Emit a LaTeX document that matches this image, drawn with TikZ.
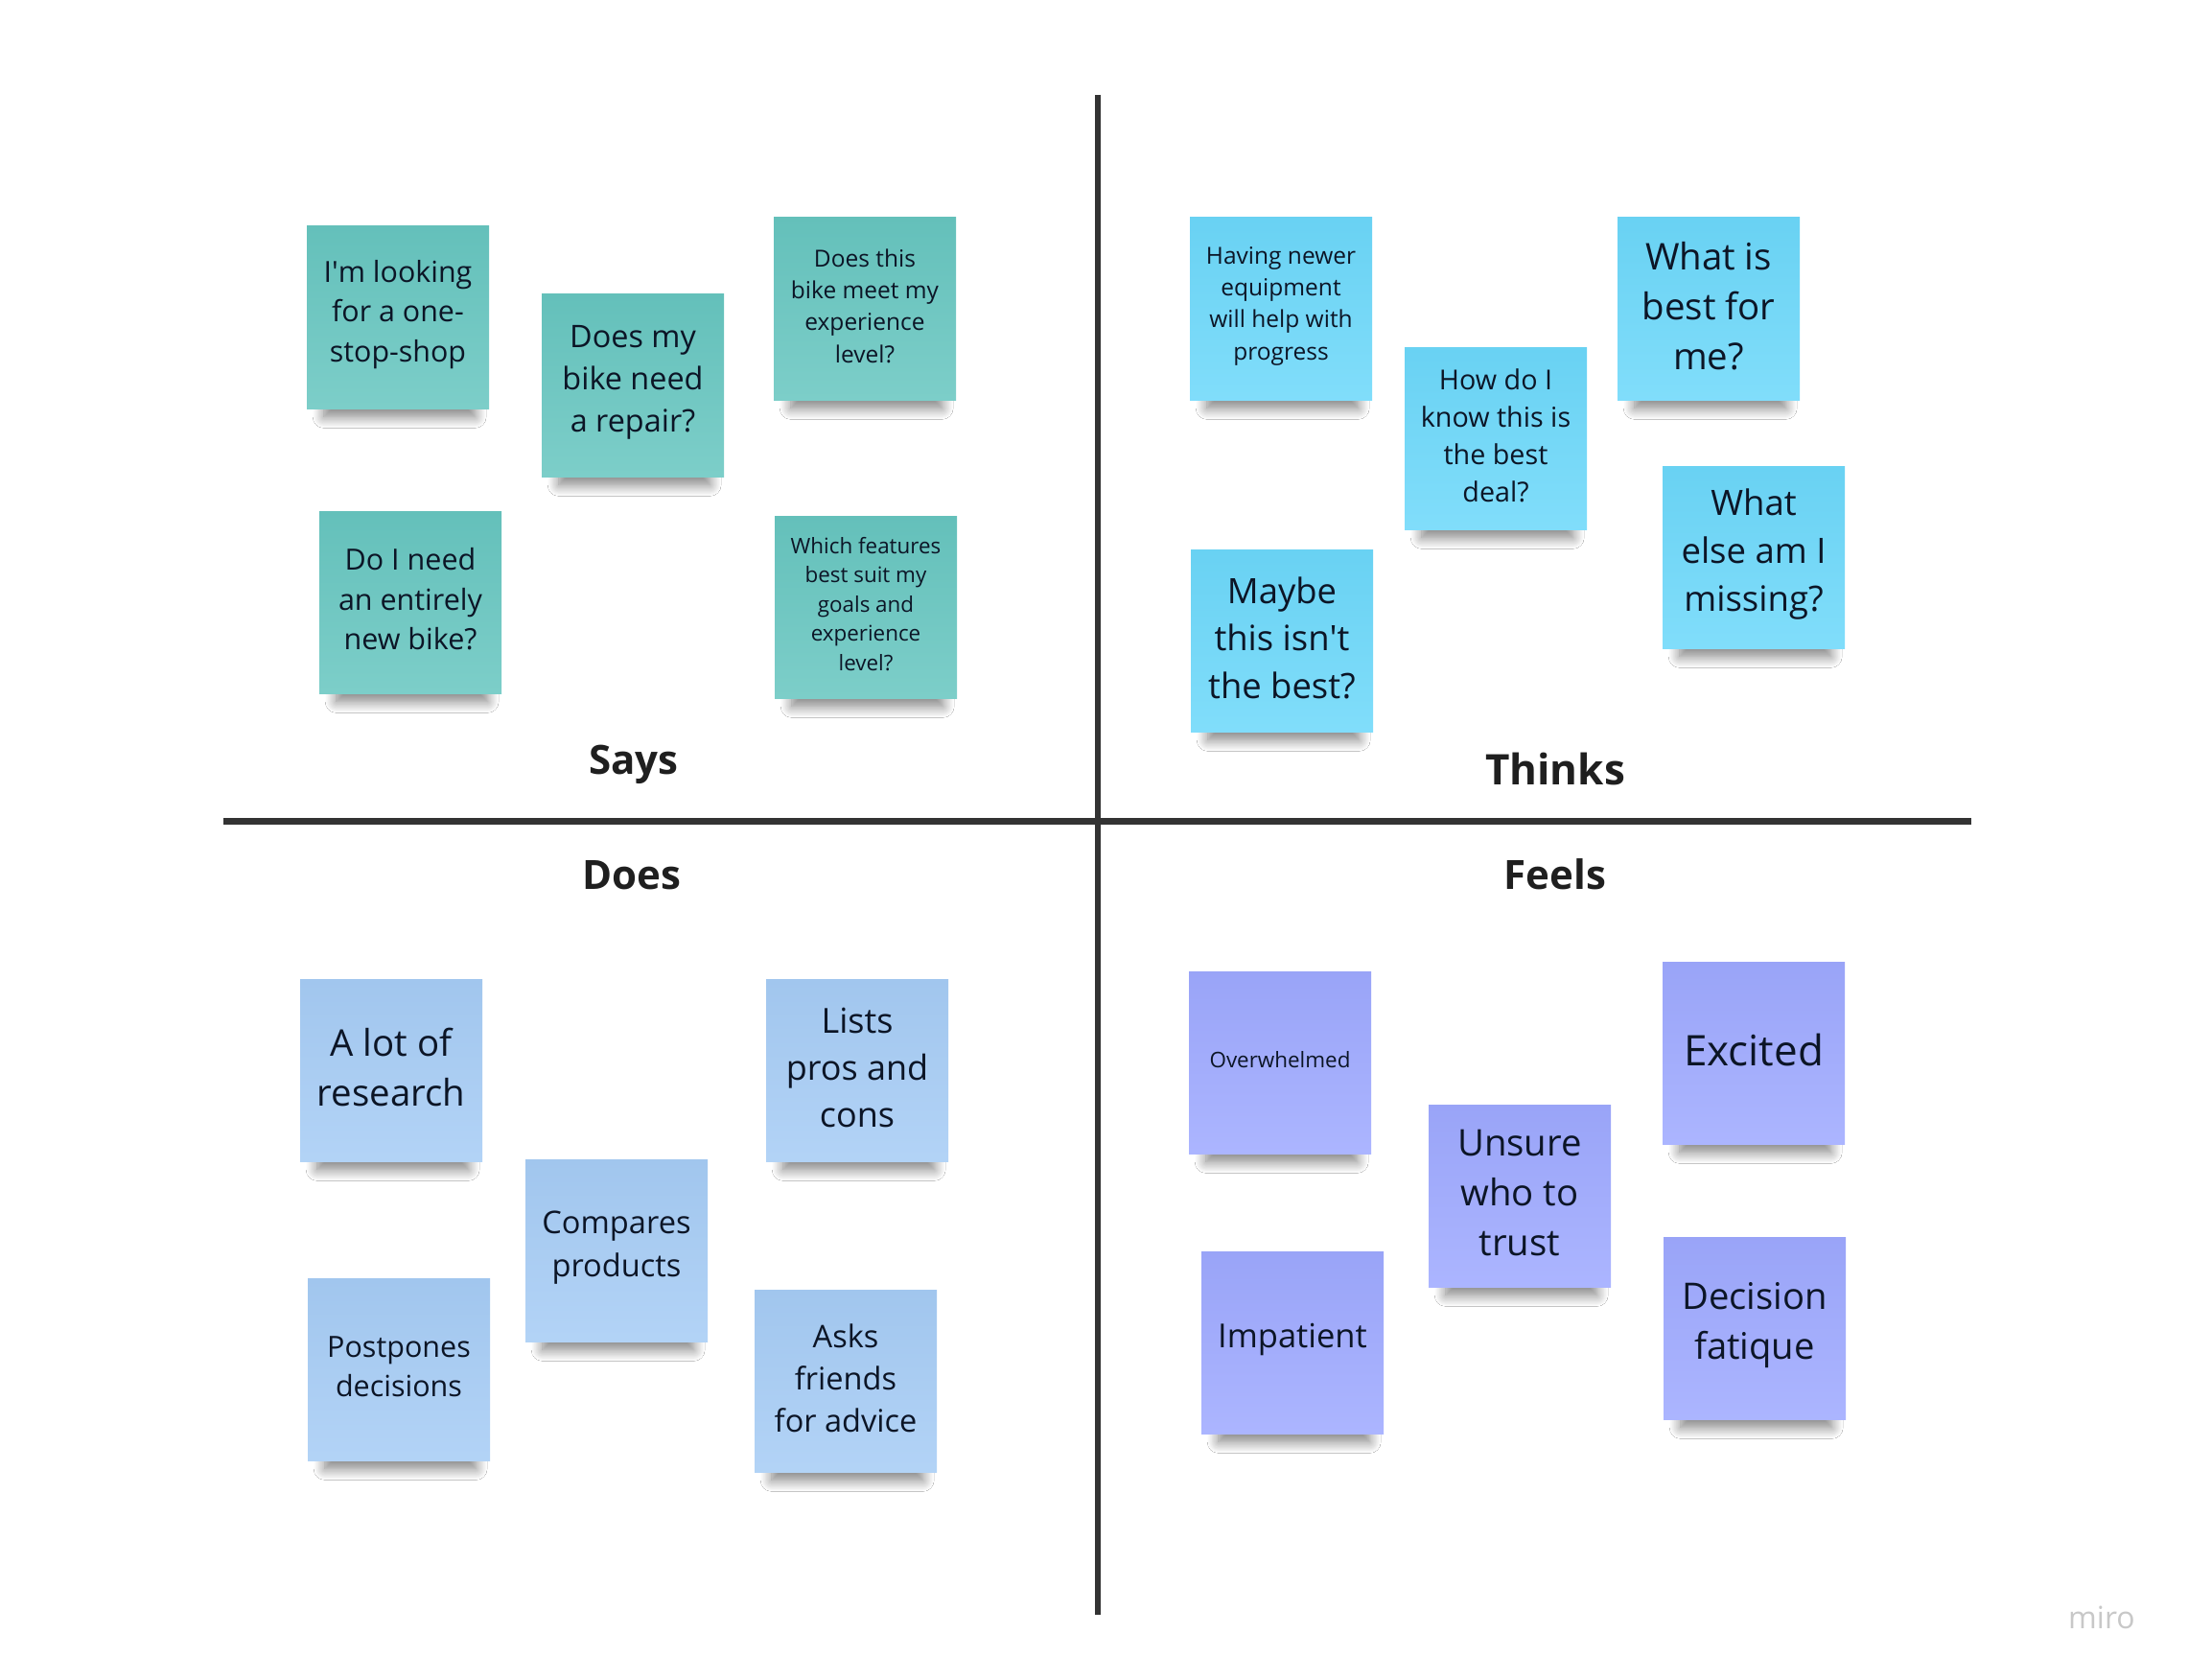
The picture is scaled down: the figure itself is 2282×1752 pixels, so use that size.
\documentclass[tikz,border=0pt]{standalone}
\usepackage{fontspec}
\setmainfont{Open Sans}
\usetikzlibrary{shadows.blur}
\definecolor{Teal}{HTML}{67C6C0}
\definecolor{Sky}{HTML}{6CD8FA}
\definecolor{Powder}{HTML}{A6CCF5}
\definecolor{Lilac}{HTML}{9EA9FF}
\definecolor{Ink}{HTML}{0C1526}
\definecolor{Rule}{HTML}{333333}
\definecolor{Watermark}{HTML}{C8C8C8}
\newcommand{\notesize}[1]{\pgfmathsetmacro\noteskip{1.36*#1}\fontsize{#1}{\noteskip}\selectfont}

\begin{document}
\begin{tikzpicture}[x=1pt, y=-1pt,
    sticky/.style={top color=#1!97!black, bottom color=#1!86!white, draw=none,
      minimum width=190pt, minimum height=190pt, inner sep=0pt,
      blur shadow={shadow xshift=2pt, shadow yshift=-30pt, shadow scale=0.83,
        shadow opacity=50, shadow blur radius=14pt, shadow blur steps=14}},
    writing/.style={text=Ink, align=center, inner sep=0pt, font=\notesize{#1}},
    heading/.style={text=black!88, anchor=base, font=\bfseries\fontsize{#1}{50}\selectfont}]
    \useasboundingbox[fill=white] (0,0) rectangle (2282,1752);

    % axes
    \coordinate (top) at (1145,99);
    \coordinate (bottom) at (1145,1684);
    \coordinate (left) at (233,856.5);
    \coordinate (right) at (2056,856.5);
    \draw[line width=6.5pt, Rule] (top) -- (bottom);
    \draw[line width=6.5pt, Rule] (left) -- (right);

    % says
    \node[sticky=Teal] (s1) at (415,331) {};
    \node[writing=30.4] (s1-txt) at ([yshift=3pt]s1.center) {I\textquotesingle m looking\\for a one-\\stop-shop};
    \node[sticky=Teal] (s2) at (660,402) {};
    \node[writing=32.4] (s2-txt) at ([yshift=3pt]s2.center) {Does my\\bike need\\a repair?};
    \node[sticky=Teal] (s3) at (902,322) {};
    \node[writing=24.5] (s3-txt) at ([yshift=3pt]s3.center) {Does this\\bike meet my\\experience\\level?};
    \node[sticky=Teal] (s4) at (428,628) {};
    \node[writing=30.5] (s4-txt) at ([yshift=3pt]s4.center) {Do I need\\an entirely\\new bike?};
    \node[sticky=Teal] (s5) at (903,633) {};
    \node[writing=22.4] (s5-txt) at ([yshift=3pt]s5.center) {Which features\\best suit my\\goals and\\experience\\level?};
    \node[heading=42] (says) at (661,807) {Says};

    % thinks
    \node[sticky=Sky] (t1) at (1336,322) {};
    \node[writing=24.5] (t1-txt) at ([yshift=3pt]t1.center) {Having newer\\equipment\\will help with\\progress};
    \node[sticky=Sky] (t2) at (1560,457) {};
    \node[writing=28.7] (t2-txt) at ([yshift=3pt]t2.center) {How do I\\know this is\\the best\\deal?};
    \node[sticky=Sky] (t3) at (1782,322) {};
    \node[writing=38.4] (t3-txt) at ([yshift=3pt]t3.center) {What is\\best for\\me?};
    \node[sticky=Sky] (t4) at (1829,581) {};
    \node[writing=36.5] (t4-txt) at ([yshift=3pt]t4.center) {What\\else am I\\missing?};
    \node[sticky=Sky] (t5) at (1337,668) {};
    \node[writing=36.4] (t5-txt) at ([yshift=3pt]t5.center) {Maybe\\this isn\textquotesingle t\\the best?};
    \node[heading=44] (thinks) at (1622,818) {Thinks};

    % does
    \node[heading=42] (does) at (659,927) {Does};
    \node[sticky=Powder] (d1) at (408,1116) {};
    \node[writing=38.4] (d1-txt) at ([yshift=3pt]d1.center) {A lot of\\research};
    \node[sticky=Powder] (d2) at (894,1116) {};
    \node[writing=36] (d2-txt) at ([yshift=3pt]d2.center) {Lists\\pros and\\cons};
    \node[sticky=Powder] (d3) at (643,1304) {};
    \node[writing=32.6] (d3-txt) at ([yshift=3pt]d3.center) {Compares\\products};
    \node[sticky=Powder] (d4) at (416,1428) {};
    \node[writing=30.5] (d4-txt) at ([yshift=3pt]d4.center) {Postpones\\decisions};
    \node[sticky=Powder] (d5) at (882,1440) {};
    \node[writing=32.5] (d5-txt) at ([yshift=3pt]d5.center) {Asks\\friends\\for advice};

    % feels
    \node[heading=42] (feels) at (1622,927) {Feels};
    \node[sticky=Lilac] (f1) at (1335,1108) {};
    \node[writing=22.4] (f1-txt) at ([yshift=3pt]f1.center) {Overwhelmed};
    \node[sticky=Lilac] (f2) at (1829,1098) {};
    \node[writing=44] (f2-txt) at ([yshift=3pt]f2.center) {Excited};
    \node[sticky=Lilac] (f3) at (1585,1247) {};
    \node[writing=38.3] (f3-txt) at ([yshift=3pt]f3.center) {Unsure\\who to\\trust};
    \node[sticky=Lilac] (f4) at (1348,1400) {};
    \node[writing=34.5] (f4-txt) at ([yshift=3pt]f4.center) {Impatient};
    \node[sticky=Lilac] (f5) at (1830,1385) {};
    \node[writing=38.2] (f5-txt) at ([yshift=3pt]f5.center) {Decision\\fatique};

    \node[anchor=base, text=Watermark, font=\fontsize{32}{38}\selectfont] (brand) at (2192,1698) {miro};
  \end{tikzpicture}
\end{document}
